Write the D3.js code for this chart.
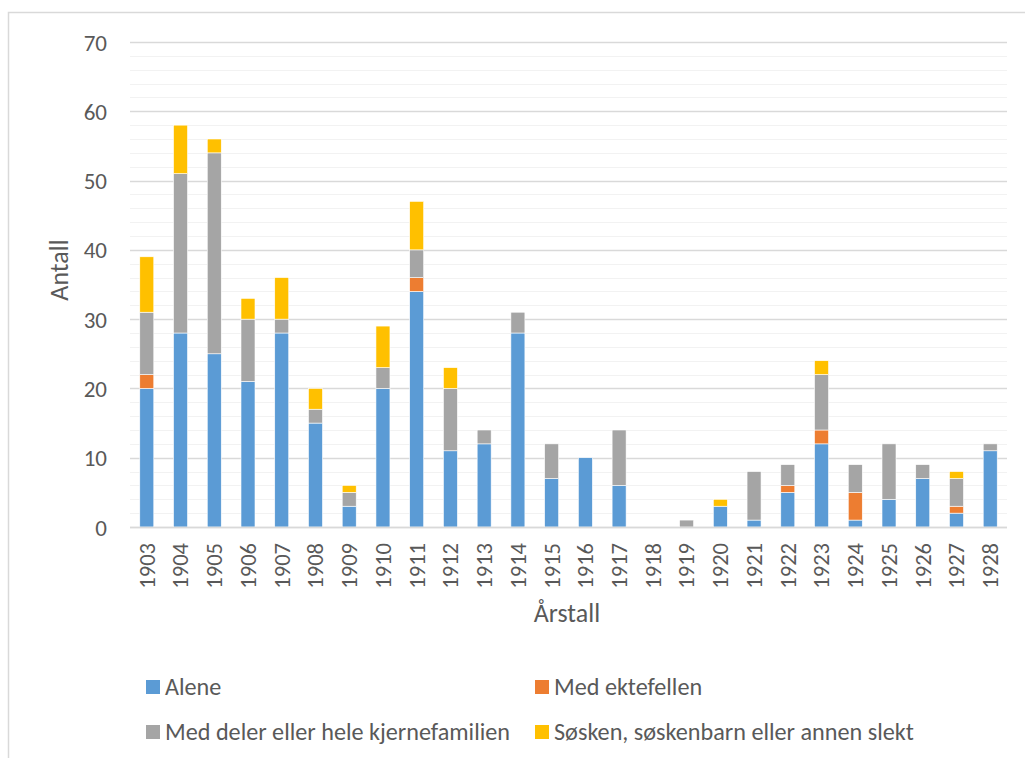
<!DOCTYPE html>
<html>
<head>
<meta charset="utf-8">
<script src="https://cdn.jsdelivr.net/npm/d3@7"></script>
<style>
  body { margin: 0; background: #fff; }
  text { font-family: Carlito, "Liberation Sans", "Open Sans", sans-serif; fill: #595959; }
</style>
</head>
<body>
<div id="chart"></div>
<script>
// years on the x axis
var years = ["1903","1904","1905","1906","1907","1908","1909","1910","1911","1912","1913","1914","1915",
             "1916","1917","1918","1919","1920","1921","1922","1923","1924","1925","1926","1927","1928"];

// one array per stacked series
var alene    = [20,28,25,21,28,15,3,20,34,11,12,28,7,10,6,0,0,3,1,5,12,1,4,7,2,11];
var ektefelle= [2,0,0,0,0,0,0,0,2,0,0,0,0,0,0,0,0,0,0,1,2,4,0,0,1,0];
var kjerne   = [9,23,29,9,2,2,2,3,4,9,2,3,5,0,8,0,1,0,7,3,8,4,8,2,4,1];
var slekt    = [8,7,2,3,6,3,1,6,7,3,0,0,0,0,0,0,0,1,0,0,2,0,0,0,1,0];

var seriesNames = ["Alene", "Med ektefellen", "Med deler eller hele kjernefamilien",
                   "Søsken, søskenbarn eller annen slekt"];
var seriesColors = ["#5B9BD5", "#ED7D31", "#A5A5A5", "#FFC000"];

var width = 1025, height = 758;
var margin = {left: 130, right: 18, top: 42, bottom: 231};

var rows = years.map(function(y, i) {
  return {year: y, s0: alene[i], s1: ektefelle[i], s2: kjerne[i], s3: slekt[i]};
});

var svg = d3.select("#chart").append("svg")
    .attr("width", width)
    .attr("height", height);

// outer chart frame (only top and left edges visible in the crop)
svg.append("path")
    .attr("d", "M8.5,758 V12.5 H1025")
    .attr("fill", "none")
    .attr("stroke", "#D9D9D9")
    .attr("stroke-width", 1.5);

var x = d3.scaleBand()
    .domain(years)
    .range([margin.left, width - margin.right])
    .paddingInner(0.585)
    .paddingOuter(0.29);

var y = d3.scaleLinear()
    .domain([0, 70])
    .range([height - margin.bottom, margin.top]);

// minor gridlines every 2
svg.append("g").selectAll("line")
  .data(d3.range(2, 70, 2).filter(function(v) { return v % 10 != 0; }))
  .enter().append("line")
    .attr("x1", margin.left).attr("x2", width - margin.right)
    .attr("y1", function(d) { return Math.round(y(d)) + 0.5; })
    .attr("y2", function(d) { return Math.round(y(d)) + 0.5; })
    .attr("stroke", "#F2F2F2")
    .attr("stroke-width", 1.2);

// major gridlines every 10
svg.append("g").selectAll("line")
  .data(d3.range(0, 71, 10))
  .enter().append("line")
    .attr("x1", margin.left).attr("x2", width - margin.right)
    .attr("y1", function(d) { return Math.round(y(d)) + 0.5; })
    .attr("y2", function(d) { return Math.round(y(d)) + 0.5; })
    .attr("stroke", "#D9D9D9")
    .attr("stroke-width", 1.3);

// stacked bars
var stack = d3.stack().keys(["s0", "s1", "s2", "s3"]);
var layers = stack(rows);

svg.append("g").selectAll("g")
  .data(layers)
  .enter().append("g")
    .attr("fill", function(d, i) { return seriesColors[i]; })
  .selectAll("rect")
  .data(function(d) { return d; })
  .enter().append("rect")
    .attr("x", function(d) { return x(d.data.year); })
    .attr("width", x.bandwidth())
    .attr("y", function(d) { return y(d[1]); })
    .attr("height", function(d) { return y(d[0]) - y(d[1]); })
    .attr("stroke", "#fff")
    .attr("stroke-width", function(d) { return d[1] > d[0] ? 0.6 : 0; });

// redraw the zero line over the bars
svg.append("line")
    .attr("x1", margin.left).attr("x2", width - margin.right)
    .attr("y1", y(0) + 0.5).attr("y2", y(0) + 0.5)
    .attr("stroke", "#D9D9D9")
    .attr("stroke-width", 1.5);

// y axis labels
var yAxis = svg.append("g")
    .attr("transform", "translate(107,0)")
    .call(d3.axisLeft(y).tickValues(d3.range(0, 71, 10)).tickSize(0).tickPadding(0));
yAxis.select(".domain").remove();
yAxis.selectAll("text")
    .style("font-size", "23px")
    .style("font-family", "Carlito, 'Liberation Sans', sans-serif")
    .style("fill", "#595959")
    .attr("dy", "0.35em");

// x axis labels, rotated
var xAxis = svg.append("g")
    .attr("transform", "translate(0," + (y(0) + 16) + ")")
    .call(d3.axisBottom(x).tickSize(0).tickPadding(0));
xAxis.select(".domain").remove();
xAxis.selectAll("text")
    .style("font-size", "22.5px")
    .style("font-family", "Carlito, 'Liberation Sans', sans-serif")
    .style("fill", "#595959")
    .attr("text-anchor", "end")
    .attr("transform", "rotate(-90)")
    .attr("x", 0)
    .attr("y", 0)
    .attr("dy", "0.35em");

// axis titles
svg.append("text")
    .attr("transform", "translate(68,270) rotate(-90)")
    .attr("text-anchor", "middle")
    .style("font-size", "26px")
    .text("Antall");

svg.append("text")
    .attr("x", 567).attr("y", 622)
    .attr("text-anchor", "middle")
    .style("font-size", "26px")
    .text("Årstall");

// legend, 2 columns x 2 rows
var legendPos = [[146, 687], [535, 687], [146, 732], [535, 732]];
var legend = svg.append("g").selectAll("g")
  .data(seriesNames)
  .enter().append("g")
    .attr("transform", function(d, i) { return "translate(" + legendPos[i][0] + "," + legendPos[i][1] + ")"; });

legend.append("rect")
    .attr("x", 0).attr("y", -7)
    .attr("width", 14).attr("height", 14)
    .attr("fill", function(d, i) { return seriesColors[i]; });

legend.append("text")
    .attr("x", 19).attr("y", 0)
    .attr("dy", "0.35em")
    .style("font-size", "24.2px")
    .text(function(d) { return d; });
</script>
</body>
</html>
